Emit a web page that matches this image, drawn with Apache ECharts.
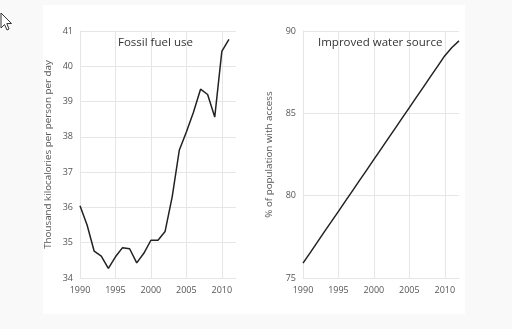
<!DOCTYPE html>
<html>
<head>
<meta charset="utf-8">
<script src="https://cdn.jsdelivr.net/npm/echarts@6/dist/echarts.min.js"></script>
<style>
  html, body { margin: 0; padding: 0; background: #f9f9f9; }
  #chart { width: 512px; height: 329px; }
</style>
</head>
<body>
<div id="chart"></div>
<script>
// Years shared by both panels
const years = [1990, 1991, 1992, 1993, 1994, 1995, 1996, 1997, 1998, 1999, 2000,
               2001, 2002, 2003, 2004, 2005, 2006, 2007, 2008, 2009, 2010, 2011, 2012];

// Fossil fuel use, thousand kilocalories per person per day (1990-2011)
const fossilFuel = [36.05, 35.5, 34.76, 34.62, 34.27, 34.6, 34.86, 34.83, 34.43, 34.7, 35.07,
                    35.07, 35.32, 36.3, 37.62, 38.14, 38.7, 39.35, 39.2, 38.56, 40.42, 40.76];

// Improved water source, % of population with access (1990-2012)
const waterAccess = [75.9, 76.53, 77.16, 77.8, 78.42, 79.05, 79.68, 80.31, 80.94, 81.57, 82.2,
                     82.83, 83.46, 84.09, 84.72, 85.35, 85.98, 86.61, 87.24, 87.87, 88.5, 89.0, 89.4];

const xTicks = [1990, 1995, 2000, 2005, 2010];
const fossilTicks = [34, 35, 36, 37, 38, 39, 40, 41];
const waterTicks = [75, 80, 85, 90];

const titles = ['Fossil fuel use', 'Improved water source'];
const yNames = ['Thousand kilocalories per person per day', '% of population with access'];

const FONT = '"Open Sans", sans-serif';
const gridColor = '#e6e6e6';

function pairs(values) {
  return values.map((v, i) => [years[i], v]);
}

function xAxis(gridIndex) {
  return {
    type: 'value', gridIndex,
    min: xTicks[0], max: 2012, interval: 5,
    axisLine: { show: true, lineStyle: { color: gridColor } },
    axisTick: { show: false },
    axisLabel: { color: '#555', fontSize: 9, fontFamily: FONT, margin: 8,
                 showMaxLabel: false, formatter: v => String(v) },
    splitLine: { show: true, showMaxLine: false, lineStyle: { color: gridColor, width: 1 } }
  };
}

function yAxis(gridIndex, ticks, name, gap) {
  return {
    type: 'value', gridIndex,
    min: ticks[0], max: ticks[ticks.length - 1], interval: ticks[1] - ticks[0],
    name, nameLocation: 'middle', nameGap: gap,
    nameTextStyle: { color: '#555', fontSize: 9.8, fontFamily: FONT },
    axisLine: { show: true, lineStyle: { color: gridColor } },
    axisTick: { show: false },
    axisLabel: { color: '#555', fontSize: 9, fontFamily: FONT, margin: 7 },
    splitLine: { show: true, lineStyle: { color: gridColor, width: 1 } }
  };
}

const chart = echarts.init(document.getElementById('chart'), null, { renderer: 'canvas' });

chart.setOption({
  backgroundColor: '#f9f9f9',
  animation: false,
  graphic: [
    { type: 'rect', z: -10, shape: { x: 43, y: 5, width: 422, height: 309 },
      style: { fill: '#ffffff' } },
    // mouse pointer in the top-left corner
    { type: 'polygon', z: 100,
      shape: { points: [[1, 13], [1, 28], [4.5, 24.5], [7, 30], [9, 29], [6.8, 23.6], [11.5, 23.5]] },
      style: { fill: '#ffffff', stroke: '#333', lineWidth: 1 } }
  ],
  title: [
    { text: titles[0], left: 118, top: 37, padding: 0,
      textStyle: { color: '#333', fontSize: 11.5, fontWeight: 'normal', fontFamily: FONT } },
    { text: titles[1], left: 318, top: 37, padding: 0,
      textStyle: { color: '#333', fontSize: 11.5, fontWeight: 'normal', fontFamily: FONT } }
  ],
  grid: [
    { left: 80, top: 31, width: 156, height: 247 },
    { left: 303, top: 31, width: 156, height: 247 }
  ],
  xAxis: [xAxis(0), xAxis(1)],
  yAxis: [
    yAxis(0, fossilTicks, yNames[0], 27),
    yAxis(1, waterTicks, yNames[1], 29)
  ],
  series: [
    { type: 'line', xAxisIndex: 0, yAxisIndex: 0, data: pairs(fossilFuel),
      showSymbol: false, lineStyle: { color: '#222', width: 1.5 } },
    { type: 'line', xAxisIndex: 1, yAxisIndex: 1, data: pairs(waterAccess),
      showSymbol: false, lineStyle: { color: '#222', width: 1.5 } }
  ]
});
</script>
</body>
</html>
